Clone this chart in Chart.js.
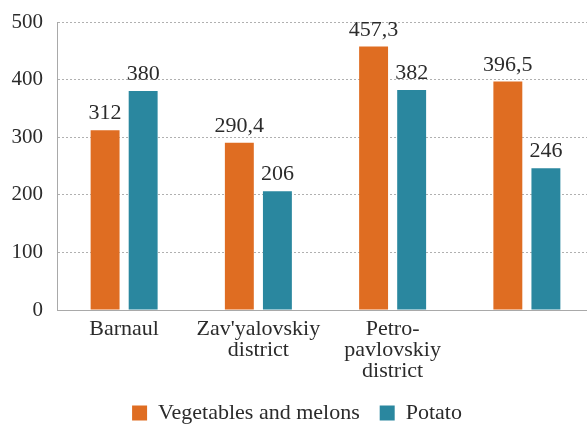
<!DOCTYPE html>
<html>
<head>
<meta charset="utf-8">
<script src="https://cdn.jsdelivr.net/npm/chart.js@4.4.1/dist/chart.umd.min.js"></script>
<style>
  html, body { margin: 0; padding: 0; background: #fff; }
  #caixa { width: 587px; height: 424px; overflow: hidden; }
  #grafico { display: block; }
</style>
</head>
<body>
<div id="caixa">
  <canvas id="grafico" width="594" height="424"></canvas>
</div>
<script>
// categorias e valores
var categorias = [['Barnaul'], ["Zav'yalovskiy", 'district'], ['Petro-', 'pavlovskiy', 'district'], ''];
var legumes = [312, 290.4, 457.3, 396.5];
var batata = [380, 206, 382, 246];
var ticksY = [0, 100, 200, 300, 400, 500];

var fonte = "'Liberation Serif', 'Times New Roman', serif";
var corTexto = '#2b2b2b';

// rotulos em cima das barras (sem plugin externo)
const rotulos = {
    id: 'rotulos',
    afterDatasetsDraw(chart) {
        const ctx = chart.ctx;
        ctx.save();
        ctx.font = '22px ' + fonte;
        ctx.fillStyle = corTexto;
        ctx.textAlign = 'center';
        ctx.textBaseline = 'alphabetic';
        chart.data.datasets.forEach(function (ds, i) {
            const meta = chart.getDatasetMeta(i);
            meta.data.forEach(function (barra, j) {
                const txt = String(ds.data[j]).replace('.', ',');
                ctx.fillText(txt, barra.x, barra.y - 11);
            });
        });
        ctx.restore();
    }
};

const data = {
    labels: categorias,
    datasets: [{
        label: 'Vegetables and melons',
        backgroundColor: '#df6d22',
        data: legumes,
    }, {
        label: 'Potato',
        backgroundColor: '#2a879f',
        data: batata,
    }]
};

const config = {
    type: 'bar',
    data: data,
    options: {
        responsive: false,
        animation: false,
        categoryPercentage: 0.567,
        barPercentage: 0.76,
        layout: { padding: 0 },
        plugins: {
            tooltip: { enabled: false },
            legend: {
                position: 'bottom',
                maxHeight: 42,
                labels: {
                    color: corTexto,
                    font: { family: fonte, size: 22, lineHeight: 1 },
                    boxWidth: 15,
                    boxHeight: 15,
                    padding: 20
                }
            }
        },
        scales: {
            x: {
                afterFit: function (eixo) { eixo.height = 72; },
                grid: { display: false, drawTicks: false },
                border: { display: true, color: '#a9a9a9', width: 1 },
                ticks: {
                    color: corTexto,
                    font: { family: fonte, size: 22, lineHeight: 0.95 },
                    padding: 9,
                    maxRotation: 0,
                    autoSkip: false
                }
            },
            y: {
                min: 0,
                max: 500,
                afterFit: function (eixo) {
                    eixo.width = 57;
                    eixo.paddingTop = 22;
                },
                afterBuildTicks: function (eixo) {
                    eixo.ticks = ticksY.map(function (v) { return { value: v }; });
                },
                grid: { color: '#b0b0b0', drawTicks: false, lineWidth: 1 },
                border: { display: true, color: '#a9a9a9', width: 1, dash: [2, 2] },
                ticks: {
                    color: corTexto,
                    font: { family: fonte, size: 21 },
                    padding: 14
                }
            }
        }
    },
    plugins: [rotulos]
};

const grafico = new Chart(document.getElementById('grafico'), config);
</script>
</body>
</html>
